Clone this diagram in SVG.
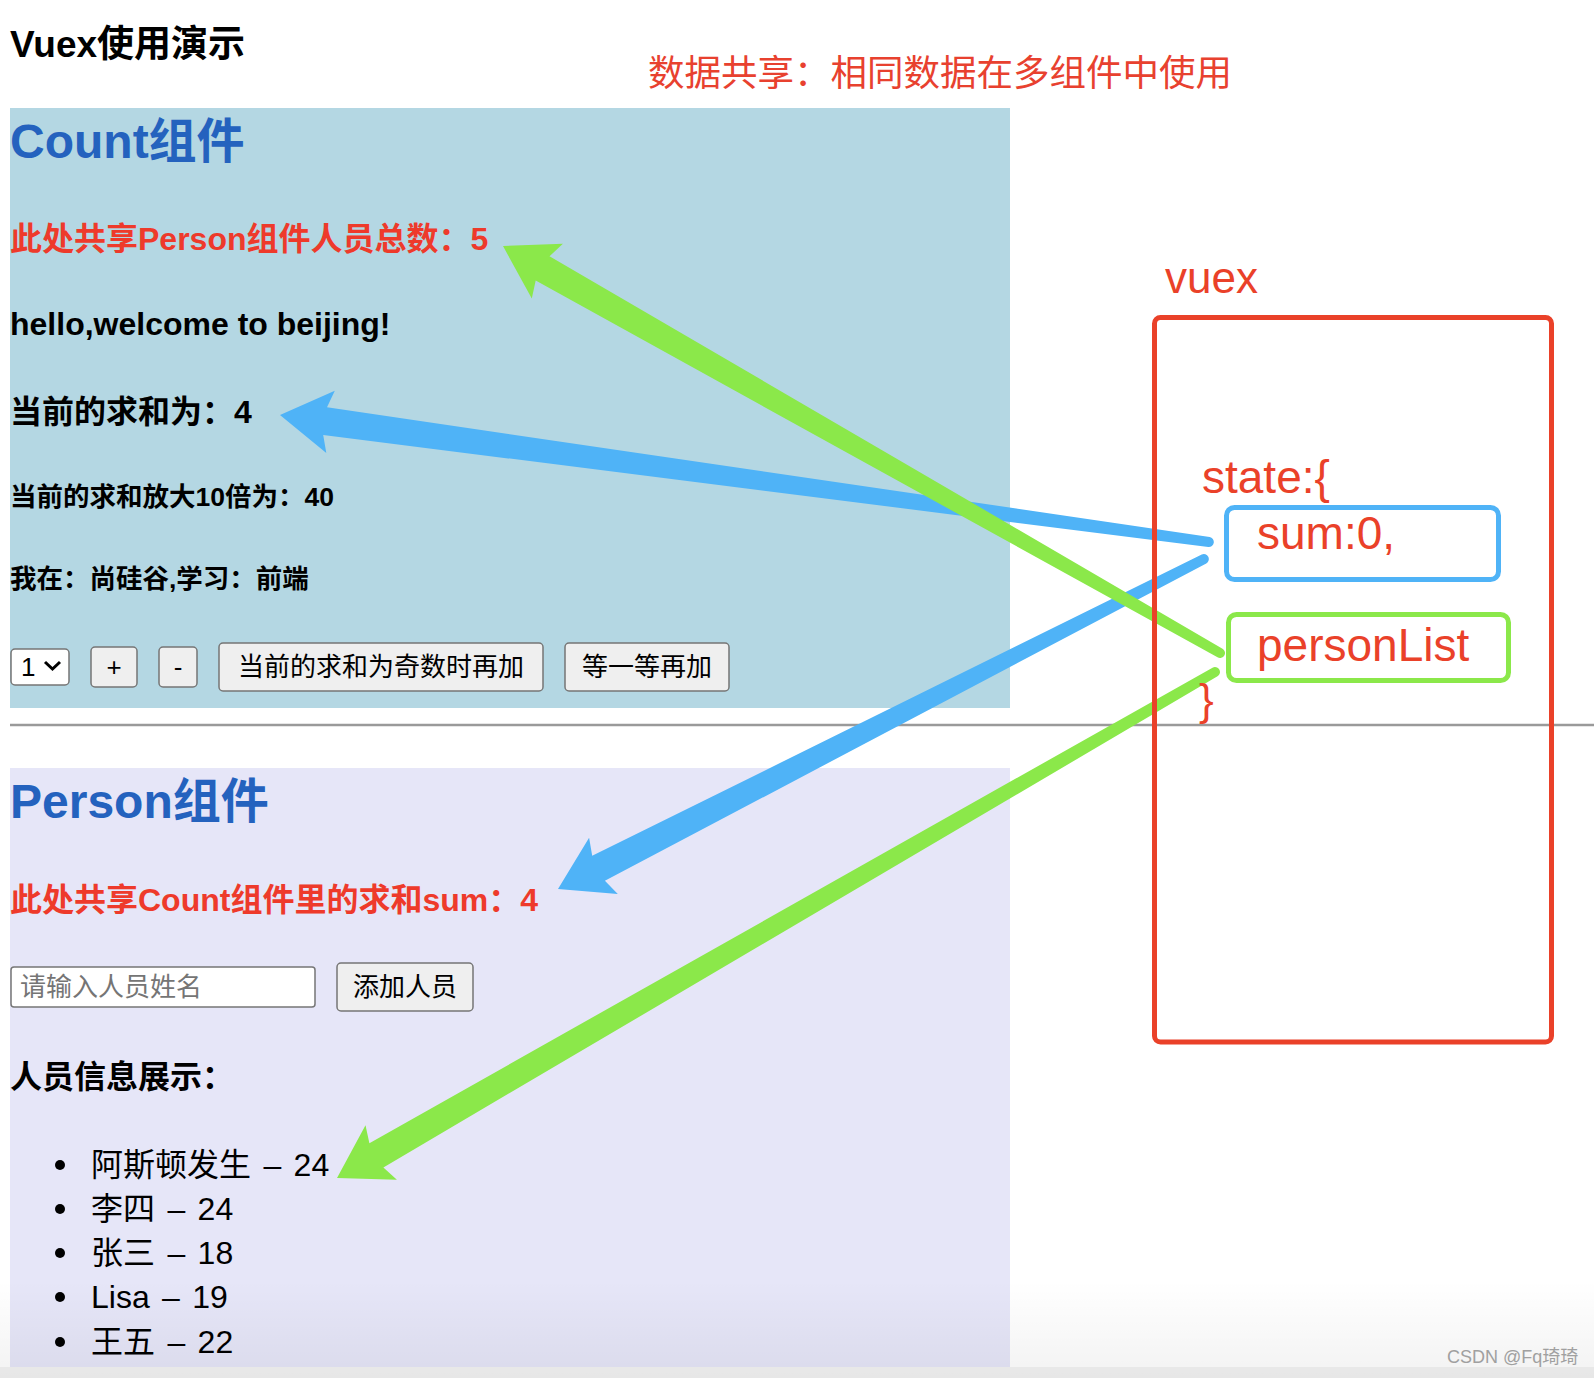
<svg xmlns="http://www.w3.org/2000/svg" width="1594" height="1378" viewBox="0 0 1594 1378">
<style>
.t{font-family:"Liberation Sans","Noto Sans CJK SC",sans-serif}
.b{font-weight:bold}
.red{fill:#ee3a2b}
.blu{fill:#2462be}
.blk{fill:#000}
.btn{fill:#efefef;stroke:#767676;stroke-width:1.5}
.btxt{font-family:"Liberation Sans","Noto Sans CJK SC",sans-serif;font-size:26px;fill:#000;text-anchor:middle}
.vx{font-family:"Liberation Sans","Noto Sans CJK SC",sans-serif;fill:#ea4129}
.li{font-family:"Liberation Sans","Noto Sans CJK SC",sans-serif;font-size:32px;fill:#000;word-spacing:3.5px}
</style>
<defs>
<linearGradient id="fade" x1="0" y1="0" x2="0" y2="1">
<stop offset="0" stop-color="#000" stop-opacity="0"/>
<stop offset="1" stop-color="#000" stop-opacity="0.05"/>
</linearGradient>
</defs>
<rect width="1594" height="1378" fill="#fff"/>

<g id="title">
<text class="t b blk" x="10" y="57" font-size="37">Vuex使用演示</text>
<text class="t" x="648" y="86" font-size="36.5" fill="#e8412f">数据共享：相同数据在多组件中使用</text>
</g>

<g id="count-panel">
<rect x="10" y="108" width="1000" height="600" fill="#b4d7e3"/>
<text class="t b blu" x="10" y="158" font-size="48">Count组件</text>
<text class="t b red" x="10" y="250" font-size="32">此处共享Person组件人员总数：5</text>
<text class="t b blk" x="10" y="335" font-size="32">hello,welcome to beijing!</text>
<text class="t b blk" x="10" y="423" font-size="32">当前的求和为：4</text>
<text class="t b blk" x="10" y="506" font-size="26.5">当前的求和放大10倍为：40</text>
<text class="t b blk" x="10" y="588" font-size="26.5">我在：尚硅谷,学习：前端</text>
<g id="select">
<rect x="11" y="649" width="58" height="36" rx="4" fill="#fff" stroke="#767676" stroke-width="1.5"/>
<text class="t blk" x="21" y="676" font-size="26">1</text>
<polyline points="45,662 52.5,669 60,662" fill="none" stroke="#000" stroke-width="3"/>
</g>
<g id="btn-plus"><rect class="btn" x="91" y="647" width="46" height="40" rx="4"/><text class="btxt" x="114" y="676">+</text></g>
<g id="btn-minus"><rect class="btn" x="159" y="647" width="38" height="40" rx="4"/><text class="btxt" x="178" y="676">-</text></g>
<g id="btn-odd"><rect class="btn" x="219" y="643" width="324" height="48" rx="4"/><text class="btxt" x="381" y="676">当前的求和为奇数时再加</text></g>
<g id="btn-wait"><rect class="btn" x="565" y="643" width="164" height="48" rx="4"/><text class="btxt" x="647" y="676">等一等再加</text></g>
</g>

<line id="divider" x1="10" y1="725" x2="1594" y2="725" stroke="#9a9a9a" stroke-width="2.5"/>

<g id="person-panel">
<rect x="10" y="768" width="1000" height="599" fill="#e6e6f8"/>
<text class="t b blu" x="10" y="818" font-size="48">Person组件</text>
<text class="t b red" x="10" y="911" font-size="32">此处共享Count组件里的求和sum：4</text>
<g id="input">
<rect x="11" y="967" width="304" height="40" rx="3" fill="#fff" stroke="#767676" stroke-width="1.5"/>
<text class="t" x="20" y="996" font-size="26" fill="#757575">请输入人员姓名</text>
</g>
<g id="btn-add"><rect class="btn" x="337" y="963" width="136" height="48" rx="4"/><text class="btxt" x="405" y="996">添加人员</text></g>
<text class="t b blk" x="10" y="1088" font-size="32">人员信息展示：</text>
<g id="list">
<circle cx="60" cy="1165" r="5"/>
<text class="li" x="91" y="1176">阿斯顿发生 – 24</text>
<circle cx="60" cy="1209" r="5"/>
<text class="li" x="91" y="1220">李四 – 24</text>
<circle cx="60" cy="1253" r="5"/>
<text class="li" x="91" y="1264">张三 – 18</text>
<circle cx="60" cy="1297" r="5"/>
<text class="li" x="91" y="1308">Lisa – 19</text>
<circle cx="60" cy="1342" r="5"/>
<text class="li" x="91" y="1353">王五 – 22</text>
</g>
</g>

<g id="connectors">
<path id="arrow-sum-count" fill="#4fb3f7" d="M280,415 L334.8,390.7 L327.0,407.3 L1209.68,537.05 A5,5 0 0 1 1208.32,546.95 L323.2,435.0 L326.3,453.1 Z"/>
<path id="arrow-sum-person" fill="#4fb3f7" d="M558,889 L589.1,837.8 L592.2,855.8 L1201.73,554.55 A5,5 0 0 1 1206.27,563.45 L604.9,880.8 L617.8,893.9 Z"/>
<path id="arrow-list-count" fill="#8be84a" d="M503,246 L562.9,243.8 L549.5,256.3 L1222.5,648.65 A5,5 0 0 1 1217.5,657.35 L535.7,280.6 L531.8,298.6 Z"/>
<path id="arrow-list-person" fill="#8be84a" d="M337,1178 L365.5,1125.2 L369.4,1143.2 L1212.5,667.67 A5,5 0 0 1 1217.5,676.33 L383.4,1167.4 L396.9,1179.8 Z"/>
</g>

<g id="vuex">
<text class="vx" x="1165" y="293" font-size="44">vuex</text>
<rect x="1154.5" y="317.5" width="397" height="724.5" rx="6" fill="none" stroke="#ea4129" stroke-width="5"/>
<text class="vx" x="1202" y="493" font-size="46">state:{</text>
<g id="state-sum">
<rect x="1226.5" y="507.5" width="272" height="72" rx="8" fill="none" stroke="#4fb3f7" stroke-width="5"/>
<text class="vx" x="1257" y="549" font-size="46">sum:0,</text>
</g>
<g id="state-personList">
<rect x="1228.5" y="614.5" width="280" height="66" rx="8" fill="none" stroke="#8be84a" stroke-width="5"/>
<text class="vx" x="1257" y="661" font-size="46">personList</text>
</g>
<text class="vx" x="1199" y="715" font-size="44">}</text>
</g>

<rect x="0" y="1367" width="1594" height="11" fill="#f3f3f3"/>
<rect x="0" y="1280" width="1594" height="98" fill="url(#fade)"/>
<text id="watermark" class="t" x="1447" y="1363" font-size="18" fill="#a0a0a0">CSDN @Fq琦琦</text>
</svg>
